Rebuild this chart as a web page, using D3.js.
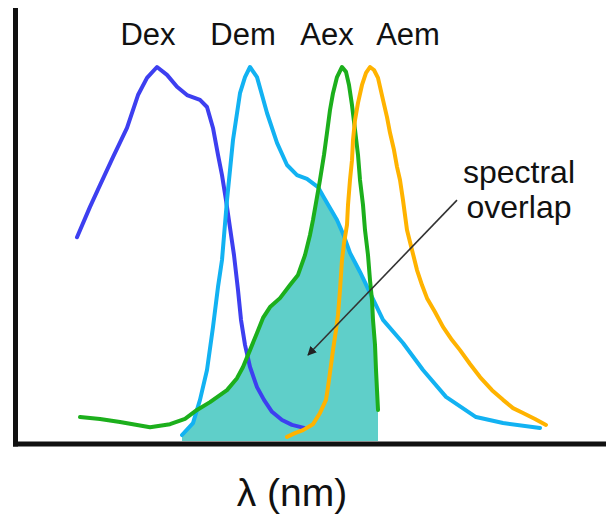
<!DOCTYPE html>
<html><head><meta charset="utf-8">
<script src="https://cdn.jsdelivr.net/npm/d3@7"></script>
<style>html,body{margin:0;padding:0;background:#fff;}svg{display:block;}</style>
</head><body>
<svg id="chart" width="606" height="517"></svg>
<script>
// wavelength (nm) and normalized intensity (0-100)
const dexX = [431,437.5,442.5,449,456,461.5,466,471,476,481,486,492.5,496,499,501.5,503.5,505.5,507.5,509.5,511.5,513,515,517.5,521,524.5,528.5,533.5,538.5,544.5];
const dexY = [54.5,62.6,68.4,75.9,83.7,92.5,97.1,100,97.9,94.7,92.5,91.2,89.3,83.7,76.5,71.1,64.4,57,49.7,40.4,32.4,25.7,19.8,14.4,11,7.8,5.6,4.3,3.5];

const demX = [483.5,489,492.5,496,499,501.5,503.5,506,509,512.5,515,517.5,521,523.5,526,531,536,541,546,551.5,554,557.5,561,564.5,567.5,572.5,577.5,584,594,604,615.5,630.5,644,662.5];
const demY = [1.6,4.8,11,19,30.5,41.2,48.4,64.4,80.5,93,97.3,100,97.3,92.5,87.7,79.7,73.8,71.1,70.1,67.9,65.5,62.3,59.1,54.8,50.3,45.2,39.6,32.4,26.2,19,11.8,6.4,4.8,3.5];

const aexX = [432.5,442.5,452.5,467.5,477.5,485,491,497.5,506,511,514,517.5,521,524,527.5,532.5,537.5,541.5,545,547.5,549,551,552.5,554.5,556,557.5,559,561,563.5,565.5,567,568.5,570,571.5,572.5,574,575,576.5,577.5,578.5,579,580,580.5,581,581.5];
const aexY = [6.4,5.9,5.1,3.7,4.5,5.9,8.3,10.4,13.6,16.8,19.8,24.3,28.9,32.9,35.8,38.2,41.7,44.4,49.7,55.1,59.1,65.2,69.8,76.5,82.4,88.5,93,97.3,100,98.7,95.2,89.8,83.2,76.5,69.8,63.1,56.4,49.7,43,37.7,32.4,25.7,19,13.6,8.3];

const aemX = [536,540,544,549,552.5,555.5,556.5,558,559,560.5,561.5,562.5,563.5,564.5,566,566.5,567.5,568.5,569,570,571.5,573.5,575.5,577.5,579.5,581.5,584,586,587.5,589.5,591,592.5,594,596,598.5,601,603.5,606,610,614,618.5,622.5,627.5,632.5,638.5,644,649,654,660,665.5];
const aemY = [1.1,2.1,2.9,4.5,7.5,11,14.4,20.3,24.3,29.7,33.7,40.4,48.4,52.9,57.8,63.1,69.8,75.1,80.5,85.8,90.4,95.2,98.4,100,99.2,97.1,91.2,86.6,82.4,77.8,73.3,69.8,64.4,56.4,51.1,45.7,41.7,38.2,34.5,30.5,27,24.3,20.6,17.1,13.6,11,8.8,7.5,5.9,4.3];

const seriesNames = ["Dex","Dem","Aex","Aem"];
const labelX = [466.5,514,556,596.5];
const arrowFrom = [621,64.4];
const arrowTo = [546.5,23];
const noteLines = ["spectral","overlap"];
const noteX = 652;
const axisTitle = "λ (nm)";

const colors = ["#3d3ff0","#12b2f2","#1caf1c","#ffb300"];

const svg = d3.select("#chart");
const x = d3.scaleLinear().domain([400,695.5]).range([15,606]);
const y = d3.scaleLinear().domain([0,100]).range([441,67]);

const series = [
  dexX.map((v,i)=>[v,dexY[i]]),
  demX.map((v,i)=>[v,demY[i]]),
  aexX.map((v,i)=>[v,aexY[i]]),
  aemX.map((v,i)=>[v,aemY[i]])
];

// overlap area: min(Dem, Aex) over the range where both exist
function interp(xs, ys, t){
  if (t<=xs[0]) return ys[0];
  if (t>=xs[xs.length-1]) return ys[ys.length-1];
  const i = d3.bisectRight(xs,t);
  const x0=xs[i-1],x1=xs[i],y0=ys[i-1],y1=ys[i];
  return y0+(y1-y0)*(t-x0)/(x1-x0);
}
const lo = demX[0], hi = aexX[aexX.length-1];
const grid = Array.from(new Set(demX.concat(aexX).filter(v=>v>=lo&&v<=hi))).sort((a,b)=>a-b);
const fine=[];
for(let i=0;i<grid.length-1;i++){fine.push(grid[i]);const n=6;for(let k=1;k<n;k++)fine.push(grid[i]+(grid[i+1]-grid[i])*k/n);}
fine.push(grid[grid.length-1]);
const overlap = fine.map(t=>[t, Math.min(interp(demX,demY,t), interp(aexX,aexY,t))]);

const area = d3.area().x(d=>x(d[0])).y0(y(0)).y1(d=>y(d[1]));
svg.append("path").datum(overlap).attr("d",area).attr("fill","#5fcfc9").attr("stroke","none");

const line = d3.line().x(d=>x(d[0])).y(d=>y(d[1])).curve(d3.curveLinear);
series.forEach((s,i)=>{
  svg.append("path").datum(s).attr("d",line).attr("fill","none")
    .attr("stroke",colors[i]).attr("stroke-width",4)
    .attr("stroke-linejoin","round").attr("stroke-linecap","round");
});

// axes
svg.append("line").attr("x1",15.5).attr("x2",15.5).attr("y1",8).attr("y2",446.5)
  .attr("stroke","#111").attr("stroke-width",5);
svg.append("line").attr("x1",13).attr("x2",606).attr("y1",444).attr("y2",444)
  .attr("stroke","#111").attr("stroke-width",5);

// series labels
svg.selectAll("text.lab").data(seriesNames).enter().append("text")
  .attr("class","lab").attr("x",(d,i)=>x(labelX[i])).attr("y",45)
  .attr("text-anchor","middle").attr("font-family","Liberation Sans, Arial, sans-serif")
  .attr("font-size",31).attr("fill","#111").text(d=>d);

// arrow
svg.append("defs").append("marker").attr("id","ah").attr("viewBox","0 0 10 10")
  .attr("refX",9).attr("refY",5).attr("markerWidth",9).attr("markerHeight",9)
  .attr("markerUnits","userSpaceOnUse").attr("orient","auto")
  .append("path").attr("d","M0,0 L10,5 L0,10 z").attr("fill","#222");
svg.append("line").attr("x1",x(arrowFrom[0])).attr("y1",y(arrowFrom[1]))
  .attr("x2",x(arrowTo[0])).attr("y2",y(arrowTo[1]))
  .attr("stroke","#333").attr("stroke-width",1.6).attr("marker-end","url(#ah)");

svg.selectAll("text.note").data(noteLines).enter().append("text")
  .attr("class","note").attr("x",x(noteX)).attr("y",(d,i)=>183+i*35)
  .attr("text-anchor","middle").attr("font-family","Liberation Sans, Arial, sans-serif")
  .attr("font-size",32).attr("fill","#111").text(d=>d);

svg.append("text").attr("x",292).attr("y",506).attr("text-anchor","middle")
  .attr("font-family","Liberation Sans, Arial, sans-serif").attr("font-size",39)
  .attr("fill","#111").text(axisTitle);
</script>
</body></html>
